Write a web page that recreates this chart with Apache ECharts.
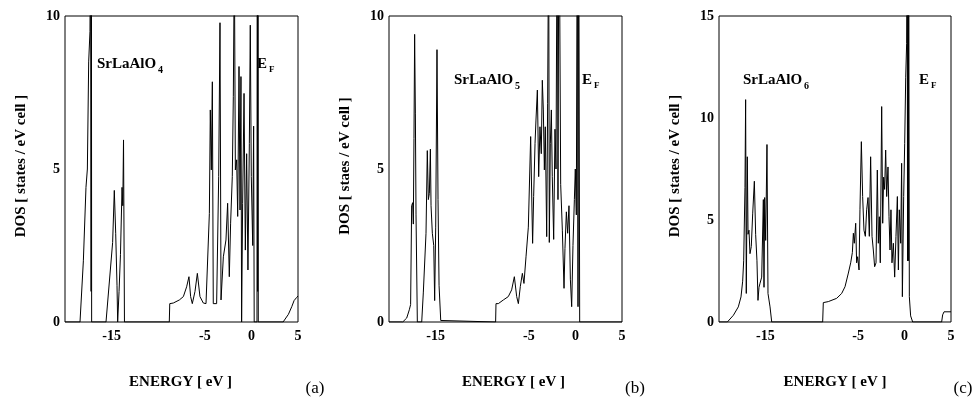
<!DOCTYPE html>
<html><head><meta charset="utf-8">
<script src="https://cdn.jsdelivr.net/npm/echarts@6/dist/echarts.min.js"></script>
<style>html,body{margin:0;padding:0;background:#fff}#c{width:977px;height:401px}</style>
</head><body><div id="c"></div>
<script>
// Panel (a) SrLaAlO4
const energyA = [-20,-18.39,-18.03,-17.75,-17.6,-17.46,-17.32,-17.25,-17.2,-17.17,-17.14,-15.6,-14.89,-14.71,-14.56,-14.42,-14.35,-14.2,-14.05,-13.88,-13.8,-13.72,-13.62,
  -8.81,-8.76,-8.38,-7.73,-7.3,-6.95,-6.7,-6.52,-6.34,-6.05,-5.8,-5.52,-5.16,-4.87,-4.69,-4.51,-4.41,-4.3,-4.19,-4.09,-3.73,-3.51,-3.37,-3.26,-3.01,-2.73,-2.55,-2.37,-2.23,-2.05,-1.94,-1.83,-1.72,-1.58,-1.47,-1.33,-1.22,-1.12,-1.05,-0.94,-0.79,-0.65,-0.51,-0.37,-0.22,-0.12,-0.01,0.14,0.24,0.3,0.6,0.64,0.67,0.7,0.74,3.4,3.97,4.33,4.58,4.85,5];
const dosA = [0,0,2.0,4.4,5.0,8.5,9.5,14,1,14,0,0,2.6,4.3,2.9,1.2,0,1.0,2.2,4.4,3.8,5.95,0,
  0,0.6,0.62,0.72,0.83,1.15,1.48,0.83,0.6,1.0,1.59,0.83,0.62,0.6,0.6,3.55,6.93,4.97,7.85,0.6,0.6,4.75,9.78,0.72,2.13,2.68,3.88,1.48,3.23,4.75,7.36,12,4.97,5.3,3.45,8.35,3.66,8.02,0,3.88,7.47,2.35,5.5,1.7,5.84,9.7,4.75,2.5,6.4,0,0,25,1,25,0,0,0.25,0.5,0.7,0.8,0.85];

// Panel (b) SrLaAlO5
const energyB = [-20,-18.53,-18.1,-17.82,-17.68,-17.57,-17.46,-17.39,-17.32,-17.25,-17.17,-17.1,-16.96,-16.49,-16.32,-16.03,-15.89,-15.78,-15.67,-15.56,-15.49,-15.35,-15.2,-15.1,-14.99,-14.85,-14.74,-14.63,-14.45,-14.35,
  -8.56,-8.52,-8.27,-7.73,-7.2,-6.84,-6.55,-6.3,-6.12,-5.91,-5.69,-5.52,-5.3,-5.05,-4.8,-4.66,-4.59,-4.48,-4.33,-4.23,-4.08,-3.94,-3.8,-3.66,-3.55,-3.44,-3.33,-3.23,-3.08,-2.98,-2.87,-2.8,-2.69,-2.58,-2.48,-2.33,-2.19,-2.08,-1.94,-1.87,-1.76,-1.65,-1.58,-1.4,-1.22,-1.12,-0.97,-0.83,-0.69,-0.54,-0.4,-0.26,-0.11,-0.01,0.1,0.21,0.28,0.35,0.46,5];
const dosB = [0,0,0.13,0.4,0.57,3.8,3.9,3.2,6.0,9.4,6.8,3.5,0,0,0.95,2.9,5.6,4.0,4.2,5.65,3.8,2.9,2.5,0.7,3.1,8.9,4.0,1.2,0.05,0,
  0,0.6,0.6,0.72,0.83,1.05,1.48,0.83,0.6,1.16,1.59,1.26,2.13,3.1,6.06,3.66,2.57,4.1,5.84,6.6,7.58,4.75,6.38,5.5,7.9,6.93,4.97,6.38,2.79,7.15,13,2.6,5.84,6.93,4.75,2.7,6.3,5.0,15,4.0,15,15,4.5,3.0,1.1,2.4,3.6,2.9,3.8,1.4,0.5,2.5,4.0,5.0,3.5,15,0.5,15,0,0];

// Panel (c) SrLaAlO6
const energyC = [-20,-19.1,-18.45,-17.92,-17.63,-17.45,-17.34,-17.2,-17.13,-17.06,-16.95,-16.87,-16.77,-16.66,-16.52,-16.37,-16.19,-16.05,-15.91,-15.8,-15.69,-15.58,-15.4,-15.22,-15.15,-15.08,-14.97,-14.83,-14.72,-14.5,-14.32,
  -8.83,-8.76,-8.22,-7.32,-6.78,-6.42,-6.06,-5.81,-5.63,-5.52,-5.42,-5.27,-5.17,-5.06,-4.91,-4.81,-4.66,-4.52,-4.38,-4.23,-4.09,-3.94,-3.8,-3.66,-3.51,-3.37,-3.23,-3.08,-2.94,-2.83,-2.72,-2.62,-2.47,-2.36,-2.26,-2.15,-2.04,-1.93,-1.79,-1.68,-1.57,-1.47,-1.36,-1.21,-1.07,-0.93,-0.78,-0.67,-0.57,-0.42,-0.32,-0.24,-0.1,0.01,0.12,0.22,0.28,0.32,0.36,0.4,0.44,0.51,0.65,0.87,3.99,4.1,4.25,5];
const dosC = [0,0,0.33,0.74,1.23,2.0,3.0,6.6,10.9,1.4,8.1,4.3,4.5,3.35,3.7,5.3,6.9,4.3,3.0,1.06,1.7,1.9,2.2,6.0,1.7,6.1,4.0,8.7,1.4,0.74,0,
  0,0.95,1.0,1.16,1.4,1.73,2.4,2.9,3.4,4.35,3.86,4.84,2.9,3.2,2.55,5.5,8.84,6.15,4.5,4.2,5.5,6.1,4.2,8.1,4.2,3.53,2.71,2.9,7.45,3.86,5.16,2.9,10.56,4.84,7.1,6.5,8.43,6.15,7.6,5.16,3.53,5.5,2.9,3.86,2.2,4.2,6.15,2.55,5.5,3.86,7.78,1.24,6.15,8.76,12.0,13.66,20,3,20,3,20,1.24,0.3,0,0,0.35,0.5,0.5];

const xLabelValues = [-15, -5, 0, 5];
const yMaxes = [10, 10, 15];
const compounds = ['SrLaAlO', 'SrLaAlO', 'SrLaAlO'];
const subscripts = ['4', '5', '6'];
const yTitles = ['DOS [ states / eV cell ]', 'DOS [ staes / eV cell ]', 'DOS [ states / eV cell ]'];
const xTitle = 'ENERGY [ eV ]';
const panelTags = ['(a)', '(b)', '(c)'];

const SERIF = '"Liberation Serif","Times New Roman",serif';
const grids = [
  {left: 65, top: 16, width: 233, height: 306},
  {left: 389, top: 16, width: 233, height: 306},
  {left: 719, top: 16, width: 232, height: 306}
];
const pairs = (e, d) => e.map((x, i) => [x, d[i]]);
const seriesData = [pairs(energyA, dosA), pairs(energyB, dosB), pairs(energyC, dosC)];
const xNamePad = [[0,0,0,-2],[0,0,0,16],[0,0,0,0]];

const option = {
  animation: false,
  backgroundColor: '#fff',
  grid: grids.map(g => Object.assign({show: true, borderColor: '#000', borderWidth: 1, backgroundColor: 'transparent'}, g)),
  xAxis: grids.map((g, i) => ({
    gridIndex: i, type: 'value', min: -20, max: 5, interval: 5,
    axisLine: {show: false}, axisTick: {show: false}, splitLine: {show: false},
    axisLabel: {
      margin: 7, color: '#000', fontFamily: SERIF, fontWeight: 'bold', fontSize: 14,
      formatter: v => xLabelValues.includes(v) ? String(v) : ''
    },
    name: xTitle, nameLocation: 'middle', nameGap: 53,
    nameTextStyle: {color: '#000', fontFamily: SERIF, fontWeight: 'bold', fontSize: 15, padding: xNamePad[i]}
  })),
  yAxis: grids.map((g, i) => ({
    gridIndex: i, type: 'value', min: 0, max: yMaxes[i], interval: 5,
    axisLine: {show: false}, axisTick: {show: false}, splitLine: {show: false},
    axisLabel: {margin: 5, color: '#000', fontFamily: SERIF, fontWeight: 'bold', fontSize: 14},
    name: yTitles[i], nameLocation: 'middle', nameRotate: 90, nameGap: 36,
    nameTextStyle: {color: '#000', fontFamily: SERIF, fontWeight: 'bold', fontSize: 15, padding: [0,0,0,6]}
  })),
  series: seriesData.map((d, i) => ({
    type: 'line', xAxisIndex: i, yAxisIndex: i, data: d, showSymbol: false,
    clip: true, lineStyle: {color: '#000', width: 1}, z: 3
  })),
  graphic: []
};

const labelPos = [
  {cx: 97, cy: 64, ex: 257},
  {cx: 454, cy: 80, ex: 582},
  {cx: 743, cy: 80, ex: 919}
];
labelPos.forEach((p, i) => {
  option.graphic.push(
    {type: 'text', x: p.cx, y: p.cy, style: {text: compounds[i], font: 'bold 15px ' + SERIF, fill: '#000', textVerticalAlign: 'middle'}},
    {type: 'text', x: p.cx + 61, y: p.cy + 6, style: {text: subscripts[i], font: 'bold 10px ' + SERIF, fill: '#000', textVerticalAlign: 'middle'}},
    {type: 'text', x: p.ex, y: p.cy, style: {text: 'E', font: 'bold 15px ' + SERIF, fill: '#000', textVerticalAlign: 'middle'}},
    {type: 'text', x: p.ex + 12, y: p.cy + 6, style: {text: 'F', font: 'bold 9px ' + SERIF, fill: '#000', textVerticalAlign: 'middle'}}
  );
});
const tagX = [315, 635, 963];
tagX.forEach((x, i) => option.graphic.push(
  {type: 'text', x: x, y: 389, style: {text: panelTags[i], font: '17px ' + SERIF, fill: '#000', textAlign: 'center', textVerticalAlign: 'middle'}}
));

const chart = echarts.init(document.getElementById('c'), null, {renderer: 'canvas'});
chart.setOption(option);
</script>
</body></html>
